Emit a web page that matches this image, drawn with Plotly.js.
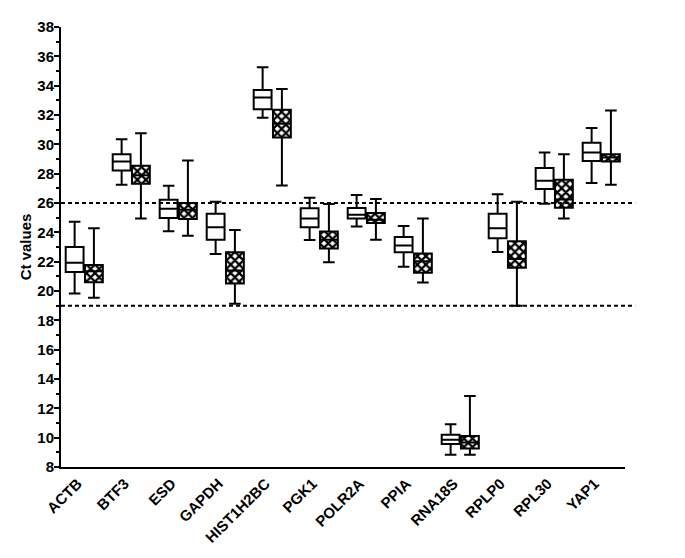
<!DOCTYPE html>
<html>
<head>
<meta charset="utf-8">
<script src="https://cdn.plot.ly/plotly-3.0.1.min.js"></script>
<style>html,body{margin:0;padding:0;background:#fff;}#chart{width:685px;height:558px;}</style>
</head>
<body>
<div id="chart"></div>
<script>
const genes = ["ACTB","BTF3","ESD","GAPDH","HIST1H2BC","PGK1","POLR2A","PPIA","RNA18S","RPLP0","RPL30","YAP1"];

// Open (white) boxes
const openMin    = [19.83, 27.24, 24.07, 22.53, 31.81, 23.48, 24.39, 21.65, 8.84, 22.66, 25.95, 27.36];
const openQ1     = [21.30, 28.22, 24.98, 23.50, 32.40, 24.34, 24.95, 22.64, 9.56, 23.59, 26.95, 28.86];
const openMedian = [21.92, 28.83, 25.61, 24.34, 33.19, 24.95, 25.20, 23.10, 9.86, 24.27, 27.52, 29.44];
const openQ3     = [23.00, 29.33, 26.22, 25.27, 33.71, 25.64, 25.66, 23.69, 10.20, 25.27, 28.38, 30.10];
const openMax    = [24.73, 30.35, 27.18, 26.09, 35.25, 26.36, 26.54, 24.43, 10.92, 26.59, 29.44, 31.12];

// Cross-hatched boxes
const hatchMin    = [19.54, 24.95, 23.76, 19.13, 27.20, 21.96, 23.50, 20.58, 8.84, 19.00, 24.95, 27.24];
const hatchQ1     = [20.60, 27.31, 24.91, 20.51, 30.46, 22.90, 24.64, 21.24, 9.26, 21.58, 25.67, 28.83];
const hatchMedian = [21.35, 27.90, 25.54, 21.39, 31.40, 23.50, 24.86, 22.03, 9.67, 22.19, 26.24, 29.10];
const hatchQ3     = [21.78, 28.54, 26.00, 22.64, 32.35, 24.05, 25.32, 22.55, 10.12, 23.39, 27.58, 29.33];
const hatchMax    = [24.27, 30.76, 28.90, 24.16, 33.78, 25.93, 26.27, 24.95, 12.84, 26.09, 29.33, 32.30];

const referenceLines = [26, 19];

const idx = genes.map((g, i) => i);
const xOpen = idx.map(i => i - 0.21);
const xHatch = idx.map(i => i + 0.2);
const BW = 0.38;
const FONT = 'Liberation Sans, Arial, sans-serif';

const hatchFill = {
  type: 'bar',
  x: xHatch,
  base: hatchQ1,
  y: hatchQ3.map((v, i) => v - hatchQ1[i]),
  width: BW,
  marker: {
    color: 'white',
    line: {width: 0},
    pattern: {shape: 'x', fgcolor: 'black', bgcolor: 'white', size: 6, solidity: 0.6, fillmode: 'replace'}
  },
  hoverinfo: 'skip',
  showlegend: false
};

function boxTrace(x, lo, q1, med, q3, hi) {
  return {
    type: 'box',
    x: x,
    lowerfence: lo, q1: q1, median: med, q3: q3, upperfence: hi,
    width: BW,
    whiskerwidth: 0.65,
    boxpoints: false,
    fillcolor: 'rgba(0,0,0,0)',
    line: {color: 'black', width: 2},
    showlegend: false
  };
}

const data = [
  hatchFill,
  boxTrace(xOpen, openMin, openQ1, openMedian, openQ3, openMax),
  boxTrace(xHatch, hatchMin, hatchQ1, hatchMedian, hatchQ3, hatchMax)
];

const shapes = referenceLines.map(v => ({
  type: 'line', xref: 'paper', yref: 'y', x0: 0, x1: 1.018, y0: v, y1: v,
  line: {color: 'black', width: 2, dash: '4px,3px'}
}));

const layout = {
  width: 685, height: 558,
  margin: {l: 61, r: 60, t: 27, b: 91},
  paper_bgcolor: 'white', plot_bgcolor: 'white',
  font: {family: FONT, color: 'black'},
  showlegend: false,
  boxmode: 'overlay',
  barmode: 'overlay',
  xaxis: {
    range: [-0.5, 11.5],
    tickmode: 'array', tickvals: idx, ticktext: genes,
    tickangle: -45,
    ticklabelshift: -7,
    tickfont: {size: 15, weight: 'bold', family: FONT, color: 'black'},
    showline: true, linecolor: 'black', linewidth: 2,
    ticks: '', showgrid: false, zeroline: false
  },
  yaxis: {
    range: [8, 38],
    dtick: 2, tick0: 8,
    ticks: 'outside', ticklen: 5, tickwidth: 2, tickcolor: 'black',
    minor: {dtick: 1, ticks: 'outside', ticklen: 3, tickwidth: 2, tickcolor: 'black', showgrid: false},
    tickfont: {size: 15, weight: 'bold', family: FONT, color: 'black'},
    ticklabelstandoff: -3,
    showline: true, linecolor: 'black', linewidth: 2,
    showgrid: false, zeroline: false,
    title: {text: 'Ct values', font: {size: 15, weight: 'bold', family: FONT, color: 'black'}, standoff: 2}
  },
  shapes: shapes
};

Plotly.newPlot('chart', data, layout, {displayModeBar: false, staticPlot: true});
</script>
</body>
</html>
